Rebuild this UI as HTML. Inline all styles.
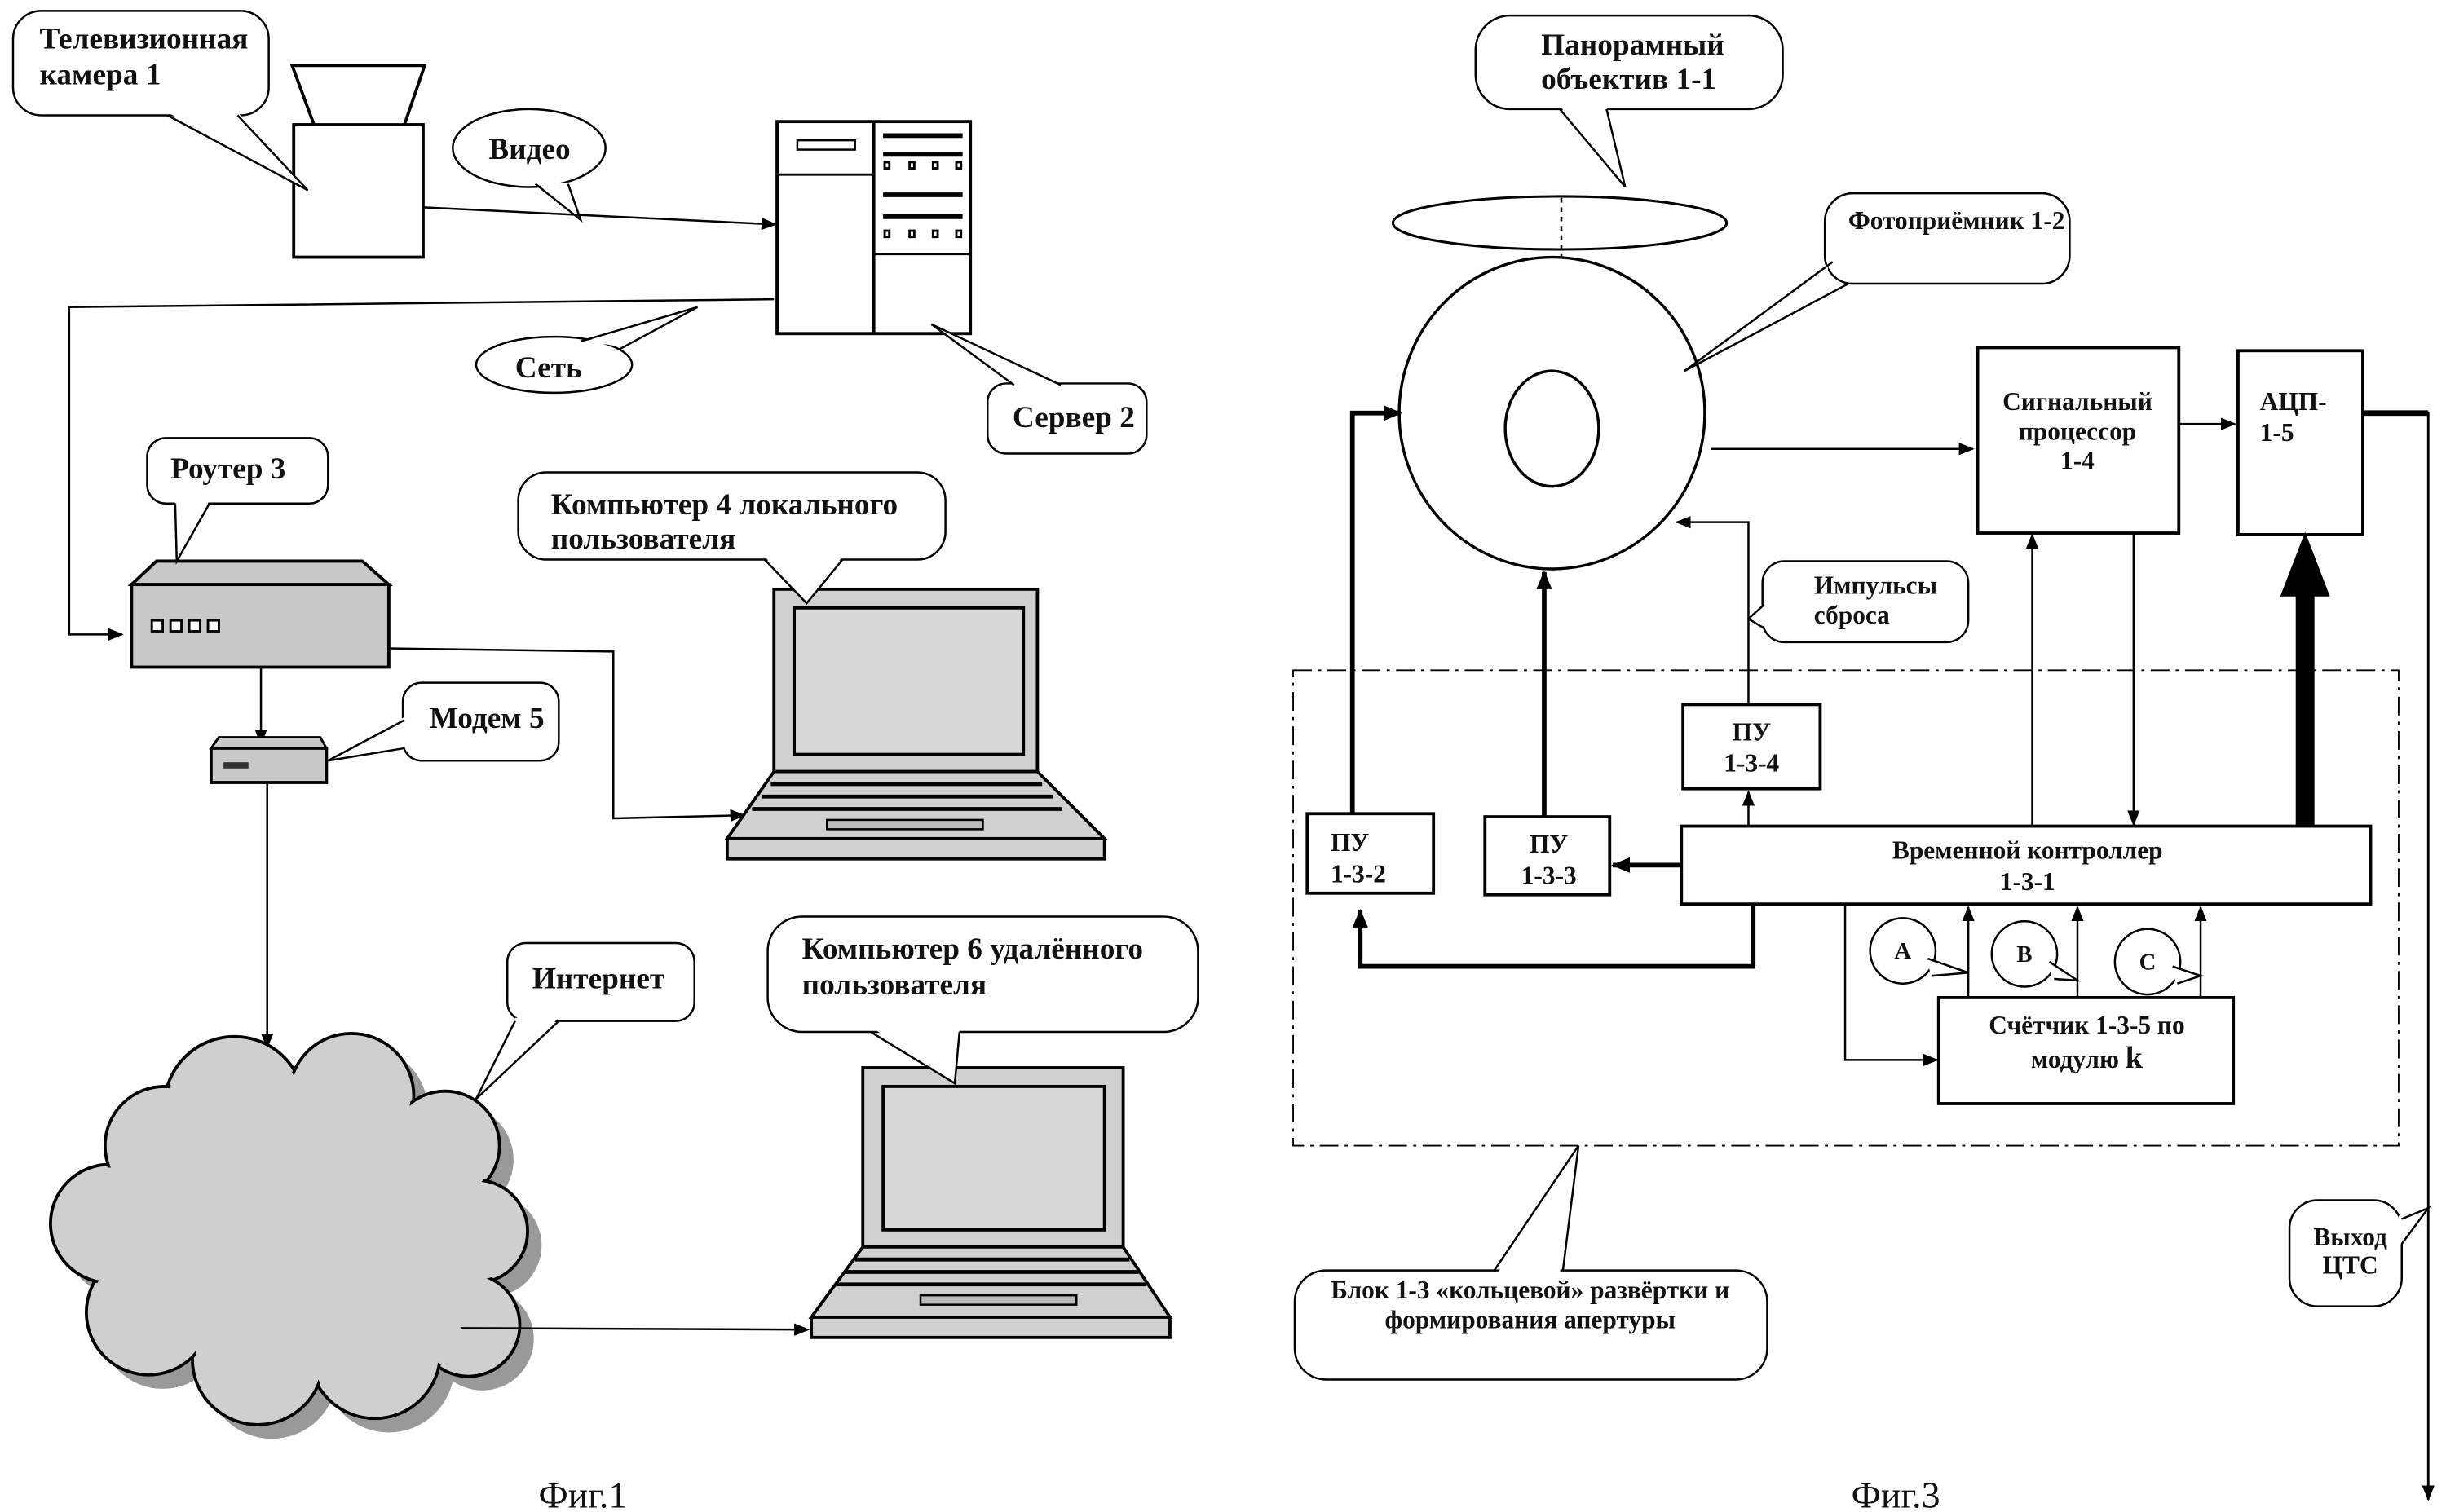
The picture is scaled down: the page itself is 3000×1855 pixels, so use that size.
<!DOCTYPE html>
<html><head><meta charset="utf-8">
<style>
html,body{margin:0;padding:0;background:#fff;}
svg{display:block;}
text{font-family:"Liberation Serif","DejaVu Serif",serif;font-weight:bold;font-size:19.5px;fill:#111;}
.n{font-weight:normal;font-size:24px;}
.r{font-size:16.4px;}
</style></head>
<body>
<svg width="3000" height="1855" viewBox="0 0 1568 970" xmlns="http://www.w3.org/2000/svg">
<defs>
<marker id="a" markerWidth="10" markerHeight="8" refX="9" refY="4" orient="auto" markerUnits="userSpaceOnUse"><path d="M0,0 L10,4 L0,8 z" fill="#000"/></marker>
<marker id="ab" markerWidth="12" markerHeight="10" refX="11" refY="5" orient="auto" markerUnits="userSpaceOnUse"><path d="M0,0 L12,5 L0,10 z" fill="#000"/></marker>
</defs>
<g fill="none" stroke="#000" stroke-width="1.3">

<!-- ===== Fig 1 ===== -->
<!-- camera -->
<rect x="188" y="80" width="83" height="85" fill="#fff" stroke-width="2"/>
<polygon points="187,42 272,42 259,80 201,80" fill="#fff" stroke-width="2"/>
<rect x="8" y="7" width="164" height="67" rx="18" fill="#fff"/>
<polygon points="107,72 152,72 197,122" fill="#fff" stroke="none"/>
<polyline points="107,74 197,122 152,74"/>
<!-- Video bubble -->
<ellipse cx="339" cy="95" rx="49" ry="25" fill="#fff"/>
<polygon points="345,118 365,117 372,141" fill="#fff" stroke="none"/>
<polyline points="343,118 372,141 364,118"/>
<line x1="271" y1="133" x2="497" y2="144" marker-end="url(#a)"/>
<!-- server -->
<rect x="498" y="78" width="124" height="136" fill="#fff" stroke-width="2"/>
<line x1="560" y1="78" x2="560" y2="214" stroke-width="2"/>
<line x1="498" y1="112" x2="560" y2="112" stroke-width="1.5"/>
<line x1="560" y1="163" x2="622" y2="163" stroke-width="1.5"/>
<rect x="511" y="90" width="37" height="6"/>
<g stroke-width="3"><line x1="566" y1="87" x2="617" y2="87"/><line x1="566" y1="99" x2="617" y2="99"/><line x1="566" y1="125" x2="617" y2="125"/><line x1="566" y1="139" x2="617" y2="139"/></g>
<g stroke-width="1.5"><rect x="567" y="104" width="3" height="4"/><rect x="583" y="104" width="3" height="4"/><rect x="598" y="104" width="3" height="4"/><rect x="613" y="104" width="3" height="4"/>
<rect x="567" y="148" width="3" height="4"/><rect x="583" y="148" width="3" height="4"/><rect x="598" y="148" width="3" height="4"/><rect x="613" y="148" width="3" height="4"/></g>
<!-- network line -->
<polyline points="496,192 44,197 44,407 78,407" marker-end="url(#a)"/>
<ellipse cx="355" cy="234" rx="50" ry="18" fill="#fff"/>
<polygon points="375,219 395,222 447,197" fill="#fff" stroke="none"/>
<polyline points="372,219 447,197 397,224"/>
<!-- server callout -->
<rect x="633" y="246" width="102" height="45" rx="12" fill="#fff"/>
<polygon points="650,247 680,247 597,208" fill="#fff" stroke="none"/>
<polyline points="650,247 597,208 680,247"/>
<!-- router -->
<polygon points="100,360 232,360 249,375 84,375" fill="#c8c8c8" stroke-width="2"/>
<rect x="84" y="375" width="165" height="53" fill="#c8c8c8" stroke-width="2"/>
<g fill="#fff" stroke-width="1.5"><rect x="97" y="398" width="7" height="7"/><rect x="109" y="398" width="7" height="7"/><rect x="121" y="398" width="7" height="7"/><rect x="133" y="398" width="7" height="7"/></g>
<rect x="94" y="281" width="116" height="42" rx="12" fill="#fff"/>
<polygon points="112,321 134,321 113,360" fill="#fff" stroke="none"/>
<polyline points="112,323 113,360 134,323"/>
<polyline points="249,416 393,418 393,525 477,523" marker-end="url(#a)"/>
<line x1="167" y1="428" x2="167" y2="477" marker-end="url(#a)"/>
<!-- modem -->
<polygon points="140,473 205,473 209,480 135,480" fill="#c8c8c8" stroke-width="1.5"/>
<rect x="135" y="480" width="74" height="22" fill="#c8c8c8" stroke-width="2"/>
<rect x="143" y="489" width="16" height="4" fill="#333" stroke="none"/>
<rect x="258" y="438" width="100" height="50" rx="12" fill="#fff"/>
<polygon points="259,460 259,482 210,488" fill="#fff" stroke="none"/>
<polyline points="259,462 210,488 259,480"/>
<line x1="171" y1="502" x2="171" y2="672" marker-end="url(#a)"/>
<!-- laptop 1 -->
<rect x="496" y="378" width="169" height="117" fill="#d0d0d0" stroke-width="2"/>
<rect x="509" y="390" width="147" height="94" fill="#d8d8d8" stroke-width="2"/>
<polygon points="496,495 665,495 708,538 466,538" fill="#d0d0d0" stroke-width="2"/>
<rect x="466" y="538" width="242" height="13" fill="#d0d0d0" stroke-width="2"/>
<g stroke-width="2.5"><line x1="494" y1="503" x2="668" y2="503"/><line x1="488" y1="511" x2="675" y2="511"/><line x1="482" y1="519" x2="681" y2="519"/></g>
<rect x="530" y="526" width="100" height="6" fill="#bbb" stroke-width="1.3"/>
<rect x="332" y="303" width="274" height="56" rx="18" fill="#fff"/>
<polygon points="490,357 540,357 517,387" fill="#fff" stroke="none"/>
<polyline points="490,359 517,387 540,359"/>
<!-- cloud -->
<g fill="#999" stroke="none" transform="translate(9,9)">
<circle cx="150" cy="710" r="45"/><circle cx="225" cy="703" r="40"/><circle cx="285" cy="735" r="35"/><circle cx="305" cy="790" r="33"/><circle cx="300" cy="850" r="33"/><circle cx="240" cy="868" r="42"/><circle cx="165" cy="872" r="42"/><circle cx="95" cy="842" r="40"/><circle cx="70" cy="785" r="38"/><circle cx="105" cy="735" r="38"/></g>
<g fill="#cfcfcf" stroke-width="2">
<circle cx="150" cy="710" r="45"/><circle cx="225" cy="703" r="40"/><circle cx="285" cy="735" r="35"/><circle cx="305" cy="790" r="33"/><circle cx="300" cy="850" r="33"/><circle cx="240" cy="868" r="42"/><circle cx="165" cy="872" r="42"/><circle cx="95" cy="842" r="40"/><circle cx="70" cy="785" r="38"/><circle cx="105" cy="735" r="38"/></g>
<g fill="#cfcfcf" stroke="none">
<circle cx="150" cy="710" r="43"/><circle cx="225" cy="703" r="38"/><circle cx="285" cy="735" r="33"/><circle cx="305" cy="790" r="31"/><circle cx="300" cy="850" r="31"/><circle cx="240" cy="868" r="40"/><circle cx="165" cy="872" r="40"/><circle cx="95" cy="842" r="38"/><circle cx="70" cy="785" r="36"/><circle cx="105" cy="735" r="36"/><ellipse cx="190" cy="790" rx="115" ry="90"/></g>
<rect x="325" y="605" width="120" height="50" rx="12" fill="#fff"/>
<polygon points="330,653 358,653 305,705" fill="#fff" stroke="none"/>
<polyline points="330,655 305,705 358,655"/>
<line x1="295" y1="852" x2="518" y2="853" marker-end="url(#a)"/>
<!-- laptop 2 -->
<rect x="553" y="685" width="167" height="115" fill="#d0d0d0" stroke-width="2"/>
<rect x="566" y="697" width="142" height="92" fill="#d8d8d8" stroke-width="2"/>
<polygon points="553,800 720,800 750,845 520,845" fill="#d0d0d0" stroke-width="2"/>
<rect x="520" y="845" width="230" height="13" fill="#d0d0d0" stroke-width="2"/>
<g stroke-width="2.5"><line x1="548" y1="808" x2="724" y2="808"/><line x1="542" y1="816" x2="730" y2="816"/><line x1="536" y1="824" x2="735" y2="824"/></g>
<rect x="590" y="831" width="100" height="6" fill="#bbb" stroke-width="1.3"/>
<rect x="492" y="588" width="276" height="74" rx="22" fill="#fff"/>
<polygon points="560,660 615,660 612,695" fill="#fff" stroke="none"/>
<polyline points="558,662 612,695 615,662"/>

<!-- ===== Fig 3 ===== -->
<rect x="946" y="10" width="197" height="60" rx="22" fill="#fff"/>
<polygon points="1000,68 1030,68 1042,120" fill="#fff" stroke="none"/>
<polyline points="1000,70 1042,120 1030,70"/>
<ellipse cx="1000" cy="143" rx="107" ry="17" stroke-width="1.6"/>
<line x1="1001" y1="127" x2="1001" y2="188" stroke-dasharray="3,3" marker-end="url(#a)"/>
<ellipse cx="995" cy="265" rx="98" ry="100" stroke-width="1.8" fill="#fff"/>
<ellipse cx="995" cy="275" rx="30" ry="37" stroke-width="1.8"/>
<rect x="1170" y="124" width="157" height="58" rx="18" fill="#fff"/>
<polygon points="1172,170 1172,182 1080,238" fill="#fff" stroke="none"/>
<polyline points="1175,168 1080,238 1185,182"/>
<line x1="1097" y1="288" x2="1265" y2="288" marker-end="url(#a)"/>
<rect x="1268" y="223" width="129" height="119" stroke-width="2"/>
<line x1="1397" y1="272" x2="1433" y2="272" marker-end="url(#a)"/>
<rect x="1435" y="225" width="80" height="118" stroke-width="2"/>
<polyline points="1516,265 1557,265 1557,962" stroke-width="1.5" marker-end="url(#a)"/>
<line x1="1516" y1="265" x2="1557" y2="265" stroke-width="3.5"/>
<rect x="1468" y="770" width="72" height="68" rx="18" fill="#fff"/>
<polygon points="1538,780 1538,800 1557,775" fill="#fff" stroke="none"/>
<polyline points="1540,782 1557,775 1540,798"/>
<line x1="1478" y1="530" x2="1478" y2="380" stroke-width="12"/>
<polygon points="1463,382 1493,382 1478,343" fill="#000"/>
<rect x="829" y="430" width="709" height="305" stroke-dasharray="12,4,2,4" stroke-width="1"/>
<rect x="1130" y="360" width="132" height="52" rx="14" fill="#fff"/>
<polygon points="1131,388 1131,402 1121,397" fill="#fff" stroke="none"/>
<polyline points="1131,388 1121,397 1131,403"/>
<polyline points="1121,452 1121,335 1075,335" marker-end="url(#a)"/>
<rect x="1079" y="452" width="88" height="54" stroke-width="2"/>
<line x1="1121" y1="530" x2="1121" y2="508" marker-end="url(#a)"/>
<rect x="1078" y="530" width="442" height="50" stroke-width="2"/>
<rect x="952" y="524" width="80" height="50" stroke-width="2"/>
<line x1="1078" y1="555" x2="1034" y2="555" stroke-width="3" marker-end="url(#ab)"/>
<line x1="990" y1="524" x2="990" y2="367" stroke-width="3" marker-end="url(#ab)"/>
<rect x="838" y="522" width="81" height="51" stroke-width="2"/>
<polyline points="867,522 867,265 898,265" stroke-width="3" marker-end="url(#ab)"/>
<polyline points="1124,580 1124,620 872,620 872,584" stroke-width="3" marker-end="url(#ab)"/>
<line x1="1303" y1="530" x2="1303" y2="343" marker-end="url(#a)"/>
<line x1="1368" y1="342" x2="1368" y2="529" marker-end="url(#a)"/>
<rect x="1243" y="640" width="189" height="68" stroke-width="2"/>
<polyline points="1183,580 1183,680 1242,680" marker-end="url(#a)"/>
<line x1="1262" y1="640" x2="1262" y2="582" marker-end="url(#a)"/>
<line x1="1332" y1="640" x2="1332" y2="582" marker-end="url(#a)"/>
<line x1="1411" y1="640" x2="1411" y2="582" marker-end="url(#a)"/>
<circle cx="1220" cy="610" r="21" fill="#fff"/>
<polygon points="1235,615 1238,625 1262,624" fill="#fff" stroke="none"/>
<polyline points="1236,615 1262,624 1239,626"/>
<circle cx="1298" cy="612" r="21" fill="#fff"/>
<polygon points="1313,617 1316,627 1332,629" fill="#fff" stroke="none"/>
<polyline points="1314,617 1332,629 1317,628"/>
<circle cx="1377" cy="617" r="21" fill="#fff"/>
<polygon points="1392,620 1395,630 1411,626" fill="#fff" stroke="none"/>
<polyline points="1393,620 1411,626 1396,631"/>
<rect x="830" y="815" width="303" height="70" rx="20" fill="#fff"/>
<polygon points="960,817 1000,817 1012,735" fill="#fff" stroke="none"/>
<polyline points="958,815 1012,735 1002,815"/>
</g>

<!-- ===== texts ===== -->
<text x="25" y="31">Телевизионная</text>
<text x="25" y="54">камера 1</text>
<text x="313" y="102">Видео</text>
<text x="330" y="242">Сеть</text>
<text x="649" y="274">Сервер 2</text>
<text x="109" y="307">Роутер 3</text>
<text x="275" y="467">Модем 5</text>
<text x="353" y="330">Компьютер 4 локального</text>
<text x="353" y="352">пользователя</text>
<text x="341" y="634">Интернет</text>
<text x="514" y="615">Компьютер 6 удалённого</text>
<text x="514" y="638">пользователя</text>
<text class="n" x="345" y="967">Фиг.1</text>

<text x="988" y="35">Панорамный</text>
<text x="988" y="57">объектив 1-1</text>
<text class="r" x="1185" y="147">Фотоприёмник 1-2</text>
<text class="r" x="1332" y="263" text-anchor="middle">Сигнальный</text>
<text class="r" x="1332" y="282" text-anchor="middle">процессор</text>
<text class="r" x="1332" y="301" text-anchor="middle">1-4</text>
<text class="r" x="1449" y="263">АЦП-</text>
<text class="r" x="1449" y="283">1-5</text>
<text class="r" x="1163" y="381">Импульсы</text>
<text class="r" x="1163" y="400">сброса</text>
<text class="r" x="1123" y="475" text-anchor="middle">ПУ</text>
<text class="r" x="1123" y="495" text-anchor="middle">1-3-4</text>
<text class="r" x="993" y="547" text-anchor="middle">ПУ</text>
<text class="r" x="993" y="567" text-anchor="middle">1-3-3</text>
<text class="r" x="853" y="546">ПУ</text>
<text class="r" x="853" y="566">1-3-2</text>
<text class="r" x="1300" y="551" text-anchor="middle">Временной контроллер</text>
<text class="r" x="1300" y="571" text-anchor="middle">1-3-1</text>
<text x="1220" y="615" text-anchor="middle" style="font-size:15px">A</text>
<text x="1298" y="617" text-anchor="middle" style="font-size:15px">B</text>
<text x="1377" y="622" text-anchor="middle" style="font-size:15px">C</text>
<text class="r" x="1338" y="663" text-anchor="middle">Счётчик 1-3-5 по</text>
<text class="r" x="1338" y="685" text-anchor="middle">модулю <tspan style="font-size:20px">k</tspan></text>
<text class="r" x="1507" y="799" text-anchor="middle">Выход</text>
<text class="r" x="1507" y="817" text-anchor="middle">ЦТС</text>
<text class="r" x="981" y="833" text-anchor="middle">Блок 1-3 «кольцевой» развёртки и</text>
<text class="r" x="981" y="852" text-anchor="middle">формирования апертуры</text>
<text class="n" x="1187" y="967">Фиг.3</text>
</svg>
</body></html>
